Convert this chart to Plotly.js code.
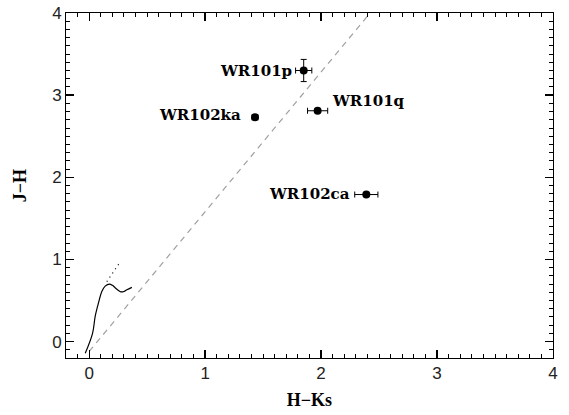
<!DOCTYPE html>
<html>
<head>
<meta charset="utf-8">
<script src="https://cdn.plot.ly/plotly-3.0.1.min.js"></script>
<style>html,body{margin:0;padding:0;background:#fff;}#chart{width:569px;height:415px;}</style>
</head>
<body>
<div id="chart"></div>
<script>
// Stars (H-Ks, J-H) with errors
const starNames = ["WR101p", "WR101q", "WR102ka", "WR102ca"];
const starHK = [1.85, 1.97, 1.43, 2.39];
const starJH = [3.30, 2.81, 2.73, 1.79];
const starHKerr = [0.07, 0.087, 0.025, 0.10];
const starJHerr = [0.135, 0.02, 0.02, 0.02];
// label offsets (px) relative to points
const labelAnchor = ["right", "left", "right", "right"];
const labelDX = [-10, 12, -12, -14];
const labelDY = [0, 10, 2, 1];

// Main-sequence intrinsic colours (solid)
const dwarfHK = [-0.034, 0.029, 0.052, 0.08, 0.109, 0.138, 0.175, 0.20, 0.224, 0.25, 0.273, 0.30, 0.325, 0.368];
const dwarfJH = [-0.142, 0.10, 0.31, 0.47, 0.61, 0.675, 0.70, 0.685, 0.655, 0.625, 0.605, 0.61, 0.63, 0.66];
// Giant branch (dotted)
const giantHK = [0.152, 0.175, 0.201, 0.224, 0.253, 0.282];
const giantJH = [0.73, 0.78, 0.84, 0.89, 0.94, 0.96];
// Reddening vector (dashed)
const reddenHK = [0.0, 2.44];
const reddenJH = [-0.12, 4.03];

const traces = [
  {x: reddenHK, y: reddenJH, mode: "lines", line: {color: "#a0a0a0", width: 1.2, dash: "6px,5px"}, hoverinfo: "skip"},
  {x: dwarfHK, y: dwarfJH, mode: "lines", line: {color: "#000", width: 1.2, shape: "spline"}, hoverinfo: "skip"},
  {x: giantHK, y: giantJH, mode: "lines", line: {color: "#000", width: 1.2, dash: "1px,4px"}, hoverinfo: "skip"},
  {x: starHK, y: starJH, mode: "markers", marker: {color: "#000", size: 8},
   error_x: {type: "data", array: starHKerr, visible: true, color: "#000", thickness: 1, width: 3},
   error_y: {type: "data", array: starJHerr, visible: true, color: "#000", thickness: 1, width: 3}}
];

const annotations = starNames.map((n, i) => ({
  x: starHK[i], y: starJH[i], xref: "x", yref: "y", text: n, showarrow: false,
  xanchor: labelAnchor[i], yanchor: "middle", xshift: labelDX[i], yshift: labelDY[i],
  font: {family: "DejaVu Serif", size: 15, color: "#000", weight: "bold"}
}));

const axisCommon = {
  showgrid: false, zeroline: false, showline: true, linecolor: "#000", linewidth: 1,
  mirror: "allticks", ticks: "inside", ticklen: 8, tickwidth: 1.3, tickcolor: "#000",
  tickmode: "linear", tick0: 0, dtick: 1,
  tickfont: {family: "Liberation Sans", size: 17, color: "#222"},
  minor: {tickmode: "linear", tick0: 0, dtick: 0.1, ticks: "inside", ticklen: 4, tickwidth: 1, tickcolor: "#000"}
};

const layout = {
  width: 569, height: 415,
  margin: {l: 66, r: 16, t: 13, b: 57},
  paper_bgcolor: "#fff", plot_bgcolor: "#fff",
  showlegend: false,
  xaxis: Object.assign({}, axisCommon, {
    range: [-0.2, 4.0],
    title: {text: "H\u2212Ks", font: {family: "Liberation Serif", size: 18, color: "#000", weight: "bold"}, standoff: 10}
  }),
  yaxis: Object.assign({}, axisCommon, {
    range: [-0.2, 4.0],
    title: {text: "J\u2212H", font: {family: "Liberation Serif", size: 18, color: "#000", weight: "bold"}, standoff: 20}
  }),
  annotations: annotations
};

Plotly.newPlot("chart", traces, layout, {displayModeBar: false, staticPlot: true});
</script>
</body>
</html>
